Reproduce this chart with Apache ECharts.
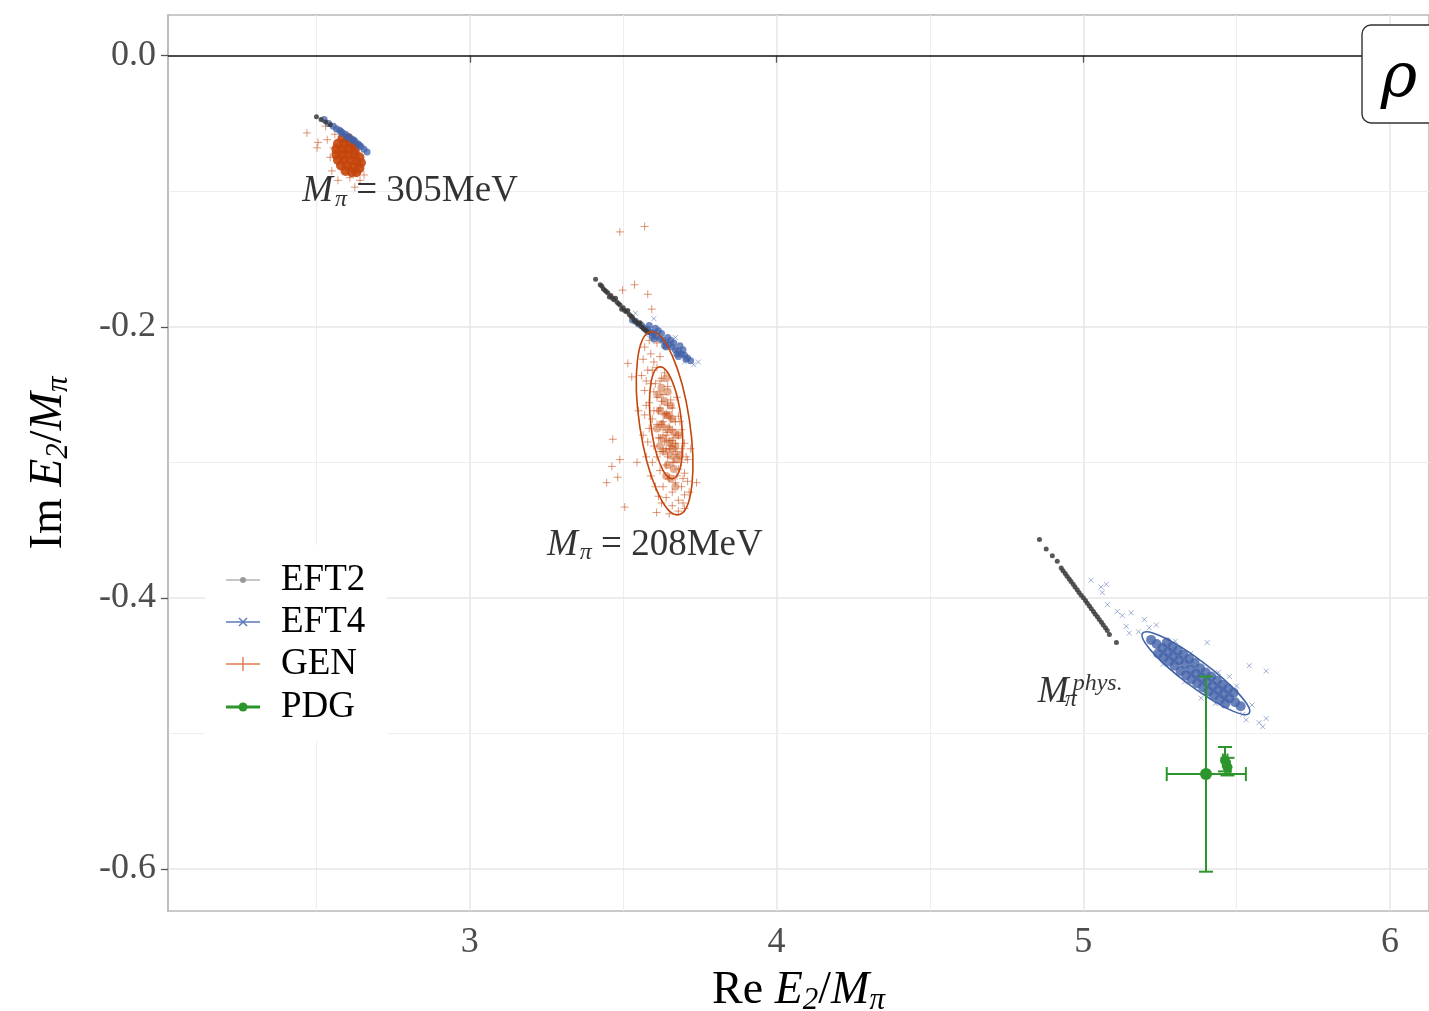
<!DOCTYPE html>
<html><head><meta charset="utf-8">
<script src="https://cdn.jsdelivr.net/npm/echarts@6/dist/echarts.min.js"></script>
<style>html,body{margin:0;padding:0;background:#fff}#c{width:1429px;height:1011px}</style>
</head><body><div id="c"></div>
<script>
// ---------- axes ----------
const xRange = [2.016, 6.127];
const yRange = [-0.631, 0.030];
const xTicks = [3, 4, 5, 6];
const xMinor = [2.5, 3.5, 4.5, 5.5];
const yTicks = [0, -0.2, -0.4, -0.6];
const yMinor = [-0.1, -0.3, -0.5];

// ---------- EFT2 (grey) ----------
const eft2_305 = [[2.50,-0.045],[2.515,-0.047],[2.53,-0.049],[2.545,-0.051]];
const eft2_208 = [[3.41,-0.165],[3.425,-0.169],[3.43,-0.170],[3.435,-0.172],[3.44,-0.173],[3.445,-0.174],[3.45,-0.175],[3.455,-0.178],[3.46,-0.177],[3.465,-0.179],[3.47,-0.180],[3.475,-0.179],[3.48,-0.182],[3.485,-0.183],[3.49,-0.184],[3.495,-0.187],[3.50,-0.186],[3.505,-0.188],[3.51,-0.189],[3.515,-0.188],[3.52,-0.191],[3.525,-0.192],[3.53,-0.193],[3.535,-0.195],[3.54,-0.196],[3.545,-0.197],[3.55,-0.198],[3.555,-0.197],[3.56,-0.200],[3.565,-0.201],[3.57,-0.202],[3.575,-0.203],[3.58,-0.204]];
const eft2_phys = [[4.857,-0.357],[4.879,-0.364],[4.899,-0.369],[4.915,-0.373],[4.928,-0.378],[4.934,-0.380],[4.941,-0.382],[4.947,-0.384],[4.954,-0.386],[4.960,-0.388],[4.967,-0.390],[4.973,-0.392],[4.980,-0.394],[4.986,-0.396],[4.993,-0.398],[5.000,-0.400],[5.007,-0.402],[5.013,-0.404],[5.020,-0.406],[5.026,-0.408],[5.033,-0.410],[5.039,-0.412],[5.046,-0.414],[5.052,-0.416],[5.059,-0.418],[5.065,-0.420],[5.072,-0.422],[5.078,-0.424],[5.085,-0.427],[5.108,-0.433]];

// ---------- EFT4 (blue) ----------
const eft4_305 = [[2.525,-0.047],[2.54,-0.050],[2.555,-0.052],[2.565,-0.054],[2.575,-0.055],[2.58,-0.056],[2.585,-0.057],[2.595,-0.058],[2.60,-0.060],[2.605,-0.060],[2.615,-0.062],[2.62,-0.062],[2.625,-0.063],[2.635,-0.065],[2.64,-0.066],[2.645,-0.067],[2.655,-0.069],[2.665,-0.071]];
const eft4_208 = [[3.53,-0.195],[3.54,-0.196],[3.55,-0.198],[3.56,-0.199],[3.57,-0.201],[3.58,-0.202],[3.59,-0.204],[3.60,-0.205],[3.61,-0.207],[3.62,-0.209],[3.63,-0.210],[3.64,-0.212],[3.65,-0.213],[3.66,-0.215],[3.67,-0.217],[3.68,-0.218],[3.69,-0.220],[3.70,-0.221],[3.71,-0.223],[3.72,-0.225],[3.585,-0.199],[3.605,-0.201],[3.625,-0.205],[3.645,-0.208],[3.665,-0.212],[3.685,-0.214],[3.60,-0.209],[3.64,-0.215],[3.68,-0.222],[3.595,-0.207],[3.615,-0.203],[3.635,-0.214],[3.655,-0.210],[3.675,-0.220],[3.695,-0.217],[3.705,-0.224]];
const eft4_208_sparse = [[3.54,-0.190],[3.60,-0.194],[3.67,-0.208],[3.575,-0.206],[3.745,-0.226],[3.73,-0.228],[3.70,-0.226]];
const eft4_phys = [[5.221,-0.431],[5.239,-0.434],[5.258,-0.437],[5.276,-0.440],[5.294,-0.443],[5.312,-0.446],[5.331,-0.449],[5.349,-0.453],[5.367,-0.456],[5.385,-0.459],[5.403,-0.462],[5.422,-0.465],[5.440,-0.468],[5.458,-0.471],[5.476,-0.474],[5.495,-0.477],[5.513,-0.480],
  [5.272,-0.433],[5.290,-0.436],[5.308,-0.439],[5.326,-0.442],[5.345,-0.445],[5.363,-0.448],[5.381,-0.452],[5.399,-0.455],[5.417,-0.458],[5.436,-0.461],[5.454,-0.464],[5.472,-0.467],[5.490,-0.470],
  [5.244,-0.441],[5.262,-0.444],[5.280,-0.447],[5.298,-0.450],[5.317,-0.454],[5.335,-0.457],[5.353,-0.460],[5.371,-0.463],[5.390,-0.466],[5.408,-0.469],[5.426,-0.472],[5.445,-0.475],[5.463,-0.478]];
const eft4_phys_sparse = [[5.025,-0.387],[5.058,-0.392],[5.075,-0.390],[5.062,-0.396],[5.079,-0.405],[5.111,-0.410],[5.127,-0.413],[5.156,-0.411],[5.140,-0.421],[5.150,-0.426],[5.199,-0.416],[5.238,-0.420],[5.404,-0.433],[5.541,-0.450],[5.596,-0.454],[5.550,-0.479],[5.531,-0.490],[5.573,-0.492],[5.596,-0.489],[5.384,-0.474],[5.476,-0.458],[5.585,-0.495],[5.180,-0.425],[5.215,-0.422],[5.300,-0.432],[5.350,-0.441],[5.44,-0.455],[5.50,-0.465],[5.52,-0.486],[5.43,-0.478],[5.33,-0.462],[5.26,-0.449]];

// ---------- GEN (orange) ----------
const gen305_core = [[2.585,-0.061],[2.605,-0.061],[2.57,-0.065],[2.59,-0.065],[2.61,-0.065],[2.625,-0.066],[2.565,-0.069],[2.585,-0.069],[2.605,-0.069],[2.625,-0.070],[2.565,-0.073],[2.585,-0.073],[2.605,-0.073],[2.625,-0.073],[2.64,-0.075],[2.57,-0.077],[2.59,-0.077],[2.61,-0.077],[2.63,-0.078],[2.645,-0.079],[2.58,-0.081],[2.60,-0.081],[2.62,-0.082],[2.64,-0.083],[2.595,-0.085],[2.615,-0.086],[2.63,-0.086]];
const gen305_sparse = [[2.469,-0.057],[2.502,-0.068],[2.505,-0.064],[2.53,-0.052],[2.545,-0.075],[2.55,-0.085],[2.57,-0.092],[2.609,-0.090],[2.642,-0.092],[2.625,-0.097],[2.655,-0.088],[2.56,-0.058],[2.535,-0.062],[2.555,-0.068]];
const gen208 = [[3.489,-0.130],[3.570,-0.126],[3.537,-0.169],[3.580,-0.176],[3.498,-0.173],[3.593,-0.187],[3.466,-0.283],[3.463,-0.303],[3.446,-0.315],[3.489,-0.298],[3.482,-0.311],[3.505,-0.333],[3.609,-0.337],[3.739,-0.315],[3.515,-0.227],[3.528,-0.237],
  [3.585,-0.210],[3.61,-0.212],[3.57,-0.215],[3.59,-0.220],[3.62,-0.222],[3.565,-0.224],[3.60,-0.226],
  [3.58,-0.232],[3.61,-0.230],[3.635,-0.234],[3.56,-0.236],[3.59,-0.242],[3.62,-0.240],[3.645,-0.244],[3.57,-0.247],[3.60,-0.248],
  [3.61,-0.252],[3.63,-0.250],[3.655,-0.254],[3.585,-0.256],[3.675,-0.252],[3.60,-0.262],[3.62,-0.260],[3.64,-0.264],[3.66,-0.260],[3.68,-0.266],[3.57,-0.265],
  [3.61,-0.272],[3.63,-0.270],[3.65,-0.274],[3.67,-0.270],[3.69,-0.276],[3.585,-0.275],[3.62,-0.282],[3.64,-0.280],[3.66,-0.284],[3.68,-0.280],[3.70,-0.286],[3.60,-0.288],
  [3.63,-0.292],[3.65,-0.290],[3.67,-0.294],[3.69,-0.290],[3.61,-0.296],[3.71,-0.298],[3.64,-0.302],[3.66,-0.300],[3.68,-0.305],[3.62,-0.306],[3.70,-0.308],
  [3.65,-0.312],[3.67,-0.315],[3.63,-0.318],[3.69,-0.318],[3.71,-0.314],[3.66,-0.322],[3.64,-0.326],[3.68,-0.328],[3.70,-0.324],[3.66,-0.332],[3.68,-0.336],[3.65,-0.338],[3.70,-0.334],
  [3.625,-0.255],[3.645,-0.258],[3.635,-0.265],[3.655,-0.268],[3.625,-0.272],[3.645,-0.278],[3.665,-0.282],[3.635,-0.285],[3.655,-0.288],[3.675,-0.292],[3.645,-0.296],[3.665,-0.300],[3.615,-0.262],[3.615,-0.282],[3.63,-0.276],[3.65,-0.284],[3.66,-0.276],[3.64,-0.290],[3.62,-0.292],[3.67,-0.286],
  [3.595,-0.232],[3.575,-0.258],[3.595,-0.300],[3.605,-0.318],[3.72,-0.290],[3.715,-0.322],[3.69,-0.300],[3.58,-0.285],[3.55,-0.262],[3.545,-0.300],
  [3.575,-0.240],[3.595,-0.268],[3.59,-0.310],[3.615,-0.325],[3.695,-0.312],[3.705,-0.296],[3.625,-0.238],[3.605,-0.242],[3.565,-0.280],[3.575,-0.296],[3.625,-0.330],[3.695,-0.330],[3.685,-0.270],[3.675,-0.310]];
const gen208_core = [[3.625,-0.245],[3.645,-0.248],[3.635,-0.255],[3.655,-0.258],[3.62,-0.262],[3.64,-0.265],[3.66,-0.268],[3.625,-0.272],[3.645,-0.275],[3.665,-0.278],[3.63,-0.282],[3.65,-0.285],[3.67,-0.288],[3.635,-0.292],[3.655,-0.295],[3.675,-0.298],[3.645,-0.302],[3.665,-0.305],[3.655,-0.312],[3.61,-0.275],[3.68,-0.280],[3.62,-0.288],[3.685,-0.295],[3.65,-0.265],[3.66,-0.290],[3.64,-0.238],[3.615,-0.250],[3.67,-0.318],[3.64,-0.310]];

// ---------- confidence ellipses: [cx, cy, majorEndX, majorEndY, minorEndX, minorEndY] ----------
const genEllipses = [[3.635,-0.2712,3.590,-0.2037,3.7156,-0.2684],[3.640,-0.2708,3.619,-0.2295,3.690,-0.2695]];
const eft4Ellipses = [[5.367,-0.4556,5.5407,-0.4851,5.3925,-0.4479]];

// ---------- PDG: [x, y, xLow, xHigh, yLow, yHigh] ----------
const pdg = [[5.400,-0.530,5.272,5.530,-0.602,-0.458],[5.462,-0.520,5.455,5.470,-0.528,-0.510],[5.470,-0.525,5.463,5.478,-0.531,-0.518]];

// ---------- annotations ----------
const annX = [2.805, 3.603, 4.990];
const annY = [-0.1004, -0.3609, -0.4694];
const annText = ['{m|M}{sub|π}{n| = 305MeV}', '{m|M}{sub|π}{n| = 208MeV}', '{m|M}{sub0|π}{sup|phys.}'];

const legendNames = ['EFT2', 'EFT4', 'GEN', 'PDG'];

const C = {grey:'#3a3a3a', blue:'#4262a8', orange:'#c4460c', green:'#2c962c'};
const FONT = 'Liberation Serif';
const crossPath = 'path://M5,0L5,10M0,5L10,5';
const xPath = 'path://M0,0L10,10M10,0L0,10';

const chart = echarts.init(document.getElementById('c'), null, {renderer:'canvas'});

function ellipseItem(color){
  return function(params, api){
    const c = api.coord([api.value(0), api.value(1)]);
    const pM = api.coord([api.value(2), api.value(3)]);
    const pm = api.coord([api.value(4), api.value(5)]);
    const a = Math.hypot(pM[0]-c[0], pM[1]-c[1]);
    const b = Math.hypot(pm[0]-c[0], pm[1]-c[1]);
    const ang = Math.atan2(pM[1]-c[1], pM[0]-c[0]);
    return {type:'ellipse', x:c[0], y:c[1], rotation:-ang,
      shape:{cx:0, cy:0, rx:a, ry:b},
      style:{fill:'none', stroke:color, lineWidth:1.6}};
  };
}

const gridLines = [];
xTicks.forEach(v => gridLines.push({xAxis:v, lineStyle:{color:'#e6e6e6', width:1.5, type:'solid'}}));
xMinor.forEach(v => gridLines.push({xAxis:v, lineStyle:{color:'#eeeeee', width:1.1, type:'solid'}}));
yTicks.filter(v => v !== 0).forEach(v => gridLines.push({yAxis:v, lineStyle:{color:'#e6e6e6', width:1.5, type:'solid'}}));
yMinor.forEach(v => gridLines.push({yAxis:v, lineStyle:{color:'#eeeeee', width:1.1, type:'solid'}}));

const legendRows = [580, 622, 664, 707];
const nameRich = {
  n:{fontFamily:FONT, fontSize:46, color:'#000', lineHeight:50},
  i:{fontFamily:FONT, fontSize:46, fontStyle:'italic', color:'#000', lineHeight:50},
  sub:{fontFamily:FONT, fontSize:31, fontStyle:'italic', color:'#000', lineHeight:31, padding:[19,0,0,0]}};

const option = {
  animation:false,
  backgroundColor:'#fff',
  textStyle:{fontFamily:FONT},
  grid:{left:168, right:0, top:15, bottom:100, show:true, borderColor:'#b8b8b8', borderWidth:1.5, backgroundColor:'#fff', containLabel:false, outerBoundsMode:'none'},
  xAxis:{type:'value', min:xRange[0], max:xRange[1],
    name:'{n|Re }{i|E}{sub|2}{n|/}{i|M}{sub|π}', nameLocation:'middle', nameGap:46,
    nameTextStyle:{rich:nameRich},
    axisLine:{show:true, lineStyle:{color:'#b8b8b8', width:1.5}},
    axisTick:{show:true, length:7, lineStyle:{color:'#555', width:1.3}, customValues:xTicks},
    axisLabel:{customValues:xTicks, fontFamily:FONT, fontSize:36, color:'#4d4d4d', margin:14, formatter:v=>String(v)},
    splitLine:{show:false}},
  yAxis:{type:'value', min:yRange[0], max:yRange[1],
    name:'{n|Im }{i|E}{sub|2}{n|/}{i|M}{sub|π}', nameLocation:'middle', nameGap:94, nameRotate:90,
    nameTextStyle:{rich:nameRich},
    axisLine:{show:true, lineStyle:{color:'#b8b8b8', width:1.5}},
    axisTick:{show:true, length:7, lineStyle:{color:'#555', width:1.3}, customValues:yTicks},
    axisLabel:{customValues:yTicks, fontFamily:FONT, fontSize:36, color:'#4d4d4d', margin:12, formatter:v=>v.toFixed(1)},
    splitLine:{show:false}},
  series:[
    {type:'scatter', name:'grid', data:[], silent:true, z:0,
      markLine:{silent:true, z:0, symbol:'none', label:{show:false}, data:gridLines, animation:false}},
    {type:'scatter', name:'zero', data:[], silent:true, z:3,
      markLine:{silent:true, z:3, symbol:'none', label:{show:false}, data:[{yAxis:0}], lineStyle:{color:'#222', width:1.6, type:'solid'}, animation:false}},
    {type:'scatter', name:'GEN', data:gen208_core, symbol:'circle', symbolSize:8,
      itemStyle:{color:C.orange, opacity:0.45}},
    {type:'scatter', name:'GEN', data:gen208.concat(gen305_sparse), symbol:crossPath, symbolSize:8,
      itemStyle:{color:'none', borderColor:C.orange, borderWidth:1, opacity:0.55}},
    {type:'scatter', name:'GEN', data:gen305_core, symbol:'circle', symbolSize:10,
      itemStyle:{color:C.orange, opacity:0.9}},
    {type:'scatter', name:'EFT4', data:eft4_phys_sparse.concat(eft4_208_sparse), symbol:xPath, symbolSize:5,
      itemStyle:{color:'none', borderColor:C.blue, borderWidth:1, opacity:0.5}},
    {type:'scatter', name:'EFT4', data:eft4_phys, symbol:'circle', symbolSize:10,
      itemStyle:{color:C.blue, opacity:0.8}},
    {type:'scatter', name:'EFT4', data:eft4_208.concat(eft4_305), symbol:'circle', symbolSize:7,
      itemStyle:{color:C.blue, opacity:0.75}},
    {type:'scatter', name:'EFT2', data:eft2_208.concat(eft2_phys, eft2_305), symbol:'circle', symbolSize:5,
      itemStyle:{color:C.grey, opacity:0.85}},
    {type:'custom', name:'GEN ellipse', data:genEllipses, renderItem:ellipseItem(C.orange), silent:true, z:5},
    {type:'custom', name:'EFT4 ellipse', data:eft4Ellipses, renderItem:ellipseItem(C.blue), silent:true, z:5},
    {type:'custom', name:'PDG', data:pdg, z:6, silent:true,
      renderItem:function(params, api){
        const p = api.coord([api.value(0), api.value(1)]);
        const xl = api.coord([api.value(2), api.value(1)]);
        const xh = api.coord([api.value(3), api.value(1)]);
        const yl = api.coord([api.value(0), api.value(4)]);
        const yh = api.coord([api.value(0), api.value(5)]);
        const cap = 7, st = {stroke:C.green, lineWidth:2};
        const r = params.dataIndex === 0 ? 6 : 5;
        return {type:'group', children:[
          {type:'line', shape:{x1:xl[0], y1:p[1], x2:xh[0], y2:p[1]}, style:st},
          {type:'line', shape:{x1:xl[0], y1:p[1]-cap, x2:xl[0], y2:p[1]+cap}, style:st},
          {type:'line', shape:{x1:xh[0], y1:p[1]-cap, x2:xh[0], y2:p[1]+cap}, style:st},
          {type:'line', shape:{x1:p[0], y1:yl[1], x2:p[0], y2:yh[1]}, style:st},
          {type:'line', shape:{x1:p[0]-cap, y1:yl[1], x2:p[0]+cap, y2:yl[1]}, style:st},
          {type:'line', shape:{x1:p[0]-cap, y1:yh[1], x2:p[0]+cap, y2:yh[1]}, style:st},
          {type:'circle', shape:{cx:p[0], cy:p[1], r:r}, style:{fill:C.green}}
        ]};
      }},
    {type:'scatter', name:'labels', silent:true, z:7, symbolSize:0,
      data:annX.map((x,i)=>[x, annY[i]]),
      label:{show:true, position:'inside', color:'#000', formatter:p=>annText[p.dataIndex],
        rich:{
          m:{fontFamily:FONT, fontSize:37, fontStyle:'italic', color:'#000', lineHeight:40},
          n:{fontFamily:FONT, fontSize:37, color:'#000', lineHeight:40},
          sub:{fontFamily:FONT, fontSize:24, fontStyle:'italic', color:'#000', lineHeight:24, padding:[16,0,0,2]},
          sub0:{fontFamily:FONT, fontSize:24, fontStyle:'italic', color:'#000', lineHeight:24, padding:[16,0,0,0], width:4},
          sup:{fontFamily:FONT, fontSize:24, fontStyle:'italic', color:'#000', lineHeight:24, padding:[0,0,16,0]}
        }}}
  ],
  graphic:[
    {type:'rect', z:100, shape:{x:205, y:545, width:182, height:196}, style:{fill:'#fff'}},
    {type:'line', z:101, shape:{x1:226, y1:legendRows[0], x2:260, y2:legendRows[0]}, style:{stroke:'#b5b5b5', lineWidth:1.6}},
    {type:'circle', z:102, shape:{cx:243, cy:legendRows[0], r:3}, style:{fill:'#9a9a9a'}},
    {type:'line', z:101, shape:{x1:226, y1:legendRows[1], x2:260, y2:legendRows[1]}, style:{stroke:'#5b78bd', lineWidth:1.6}},
    {type:'line', z:102, shape:{x1:239, y1:legendRows[1]-4, x2:247, y2:legendRows[1]+4}, style:{stroke:'#5b78bd', lineWidth:1.4}},
    {type:'line', z:102, shape:{x1:247, y1:legendRows[1]-4, x2:239, y2:legendRows[1]+4}, style:{stroke:'#5b78bd', lineWidth:1.4}},
    {type:'line', z:101, shape:{x1:226, y1:legendRows[2], x2:260, y2:legendRows[2]}, style:{stroke:'#e2784a', lineWidth:1.6}},
    {type:'line', z:102, shape:{x1:243, y1:legendRows[2]-7, x2:243, y2:legendRows[2]+7}, style:{stroke:'#e2784a', lineWidth:1.4}},
    {type:'line', z:101, shape:{x1:226, y1:legendRows[3], x2:260, y2:legendRows[3]}, style:{stroke:C.green, lineWidth:3.2}},
    {type:'circle', z:102, shape:{cx:243, cy:legendRows[3], r:4.5}, style:{fill:C.green}},
    ...legendNames.map((n,i)=>({type:'text', z:102, x:281, y:legendRows[i],
      style:{text:n, fontFamily:FONT, fontSize:37, fill:'#000', verticalAlign:'middle', align:'left'}})),
    {type:'rect', z:100, shape:{x:1362, y:25, width:90, height:98, r:9}, style:{fill:'#fff', stroke:'#333', lineWidth:1.4}},
    {type:'text', z:101, x:1399, y:80, style:{text:'ρ', fontFamily:'DejaVu Serif', fontStyle:'italic', fontSize:62, fill:'#000', align:'center', verticalAlign:'middle'}}
  ]
};
chart.setOption(option);
</script>
</body></html>
